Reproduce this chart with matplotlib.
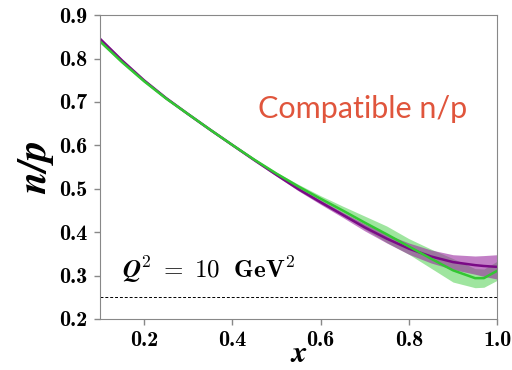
import numpy as np
import matplotlib
matplotlib.use("Agg")
import matplotlib.pyplot as plt

plt.rcParams['mathtext.fontset'] = 'cm'

x_vals = [0.10, 0.15, 0.20, 0.25, 0.30, 0.35, 0.40, 0.45, 0.50, 0.55, 0.60,
          0.65, 0.70, 0.75, 0.80, 0.85, 0.90, 0.95, 0.97, 1.00]
purple_mid = [0.846, 0.796, 0.750, 0.709, 0.672, 0.636, 0.601, 0.566, 0.532, 0.499, 0.469,
              0.440, 0.411, 0.385, 0.362, 0.344, 0.331, 0.324, 0.322, 0.320]
purple_err = [0.003, 0.003, 0.003, 0.003, 0.003, 0.003, 0.003, 0.003, 0.003, 0.004, 0.005,
              0.006, 0.008, 0.010, 0.013, 0.015, 0.017, 0.021, 0.024, 0.028]
green_mid = [0.840, 0.792, 0.748, 0.708, 0.672, 0.636, 0.601, 0.567, 0.535, 0.505, 0.477,
             0.450, 0.422, 0.395, 0.367, 0.339, 0.312, 0.294, 0.294, 0.311]
green_err = [0.003, 0.003, 0.003, 0.003, 0.003, 0.003, 0.003, 0.003, 0.003, 0.005, 0.007,
             0.010, 0.015, 0.019, 0.018, 0.022, 0.027, 0.022, 0.021, 0.022]

x_ticks = [0.2, 0.4, 0.6, 0.8, 1.0]
y_ticks = [0.2, 0.3, 0.4, 0.5, 0.6, 0.7, 0.8, 0.9]

x = np.array(x_vals)
pm, pe = np.array(purple_mid), np.array(purple_err)
gm, ge = np.array(green_mid), np.array(green_err)

fig = plt.figure(figsize=(5.12, 3.7), dpi=100)
ax = fig.add_axes([0.195, 0.138, 0.776, 0.821])

ax.fill_between(x, gm - ge, gm + ge, color='#5fd45f', alpha=0.6, lw=0)
ax.fill_between(x, pm - pe, pm + pe, color='#9a2aa0', alpha=0.6, lw=0)
ax.plot(x, pm, color='#7a0a86', lw=1.8, solid_joinstyle='round')
ax.plot(x, gm, color='#33c633', lw=1.8, solid_joinstyle='round')

ax.axhline(0.25, color='k', ls='--', lw=0.7, dashes=(3, 2))

ax.set_xlim(0.1, 1.0)
ax.set_ylim(0.2, 0.9)
ax.set_xticks(x_ticks)
ax.set_xticklabels(['%.1f' % t for t in x_ticks], fontsize=16, family='cmb10')
ax.set_yticks(y_ticks)
ax.set_yticklabels(['%.1f' % t for t in y_ticks], fontsize=16, family='cmb10')

for s in ax.spines.values():
    s.set_color('#888888')
ax.tick_params(color='#888888', length=4, width=1, direction='out', pad=5)

ax.set_xlabel(r'$\mathbfit{x}$', fontsize=22, labelpad=-8)
ax.set_ylabel(r'$\mathbfit{n/p}$', fontsize=29, labelpad=2)

ax.text(0.055, 0.294, r'$\mathbfit{Q}^{\mathbf{2}}\mathbf{\ =\ 10\ \ GeV}^{\mathbf{2}}$',
        transform=ax.get_yaxis_transform(), fontsize=18, va='baseline')
ax.text(0.661, 0.661, 'Compatible n/p', transform=ax.transAxes, fontsize=22,
        color='#e0553c', family='Lato', ha='center', va='baseline')

fig.savefig('out.png', dpi=100)
